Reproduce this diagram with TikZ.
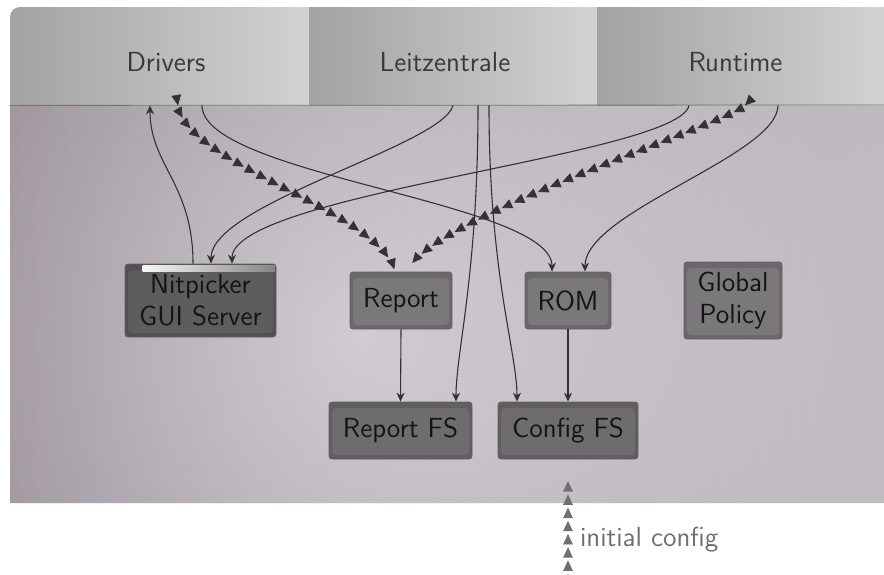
\documentclass[tikz,border=0pt]{standalone}
\usepackage{tikz}
\usetikzlibrary{arrows.meta}
\usetikzlibrary{calc}
\usetikzlibrary{fadings}
\usetikzlibrary{decorations.markings}

\definecolor{hdrleft}{HTML}{A3A3A3}
\definecolor{hdrright}{HTML}{D2D2D2}
\definecolor{hdrtext}{HTML}{3A3A3A}
\definecolor{bgleft}{HTML}{847885}
\definecolor{bgright}{HTML}{B8B0B8}
\definecolor{boxgray}{HTML}{7A787A}
\definecolor{boxdark}{HTML}{5F5C5F}
\definecolor{boxfs}{HTML}{6E6C6E}
\definecolor{boxtext}{HTML}{141414}
\definecolor{wire}{HTML}{333333}
\definecolor{feedgray}{HTML}{707070}

\tikzfading[name=glowfade, inner color=transparent!45, outer color=transparent!100]

\pgfdeclarelayer{bg}
\pgfsetlayers{bg,main}

\tikzset{
  hdr/.style={minimum height=49pt, inner sep=0pt, left color=hdrleft, right color=hdrright},
  hdrtxt/.style={text=hdrtext, inner sep=0pt},
  comp/.style={draw=black!62, line width=0.4pt, rounded corners=1.5pt, fill=#1!87!black,
    path picture={\fill[#1, rounded corners=2pt]
      ([shift={(1.5pt,-3pt)}]path picture bounding box.north west) rectangle
      ([shift={(-1.5pt,2pt)}]path picture bounding box.south east);},
    text=boxtext, align=center, inner sep=1pt},
  comp/.default=boxgray,
  dep/.style={draw=wire, line width=0.55pt, -{Stealth[length=4.5pt,width=4pt]}},
  tri/.style={decoration={markings,
    mark=between positions 0 and 1 step 6.6pt with {\arrow[#1]{Triangle[length=5.2pt,width=4.8pt]}}},
    postaction=decorate},
  tri/.default=wire
}

\begin{document}
\begin{tikzpicture}[x=0.5pt,y=-0.5pt,font=\sffamily\fontsize{13.8}{16}\selectfont]
\useasboundingbox (0,0) rectangle (884,574);

% background and header tiles
\begin{pgfonlayer}{bg}
\begin{scope}
  \clip (10,503) [rounded corners=5pt] -- (10,7) -- (900,7) [sharp corners] -- (900,503) -- cycle;
  \shade[left color=bgleft, right color=bgright] (10,105) rectangle (884,503);
  \fill[white, path fading=glowfade] (360,340) circle (720);
\end{scope}
\end{pgfonlayer}
\begin{scope}
  \clip (10,503) [rounded corners=5pt] -- (10,7) -- (900,7) [sharp corners] -- (900,503) -- cycle;
  \node[hdr, minimum width=149.5pt,
    label={[hdrtxt,xshift=3.25pt,yshift=-3pt]center:Drivers}] (drivers) at (159.5,56) {};
  \node[hdr, minimum width=144pt,
    label={[hdrtxt,xshift=-4pt,yshift=-3pt]center:Leitzentrale}] (leitz) at (453,56) {};
  \node[hdr, minimum width=144pt,
    label={[hdrtxt,xshift=-2.75pt,yshift=-3pt]center:Runtime}] (runtime) at (741,56) {};
\end{scope}
\draw[black!55, line width=0.4pt] (drivers.south west) -- (884,105);

% text colour set once outside a filled node (hidden under the Nitpicker box)
\node[text=boxtext] (colorfix) at (200.5,300.5) {GUI};
\node[text=boxtext, align=center] (colorfixb) at (733,300.5) {Global};

% components
\node[comp=boxdark, minimum width=75.5pt, minimum height=36.5pt] (nit) at (200.5,300.5) {Nitpicker\\GUI Server};
\shade[left color=white!94!gray, right color=gray!95] ($(nit.north west)+(18,1.5)$) rectangle ($(nit.north east)+(-1.5,8)$);
\node[comp, minimum width=51pt, minimum height=28.5pt] (report) at (401,300.5) {Report};
\node[comp, minimum width=43pt, minimum height=28.5pt] (rom) at (568,300.5) {ROM};
\node[comp, minimum width=49pt, minimum height=38.5pt] (glob) at (733,300.5) {Global\\Policy};
\node[comp=boxfs, minimum width=71.5pt, minimum height=28.5pt] (rfs) at (400.5,430.5) {Report FS};
\node[comp=boxfs, minimum width=70pt, minimum height=28.5pt] (cfs) at (568,430.5) {Config FS};

% sessions
\draw[dep] ($(nit.north)+(-7.5,0)$) .. controls +(0,-80) and +(0,60) .. ($(drivers.south)+(-9.5,0)$);
\path[tri] ($(drivers.south)+(18.5,0)$) .. controls +(10,60) and +(-15,-60) .. ($(report.north)+(-6,0)$);
\draw[dep] ($(drivers.south)+(42.5,0)$) .. controls +(0,70) and +(0,-70) .. ($(rom.north)+(-16,0)$);
\draw[dep] (leitz.south) .. controls +(-10,40) and +(0,-60) .. ($(nit.north)+(10.5,0)$);
\draw[dep] ($(leitz.south)+(25,0)$) .. controls +(0,170) and +(0,-50) .. ($(rfs.north)+(55.5,0)$);
\draw[dep] ($(leitz.south)+(36,0)$) .. controls +(0,170) and +(0,-50) .. ($(cfs.north)+(-51,0)$);
\draw[dep] ($(runtime.south)+(-52,0)$) .. controls +(-10,50) and +(0,-70) .. ($(nit.north)+(31.5,0)$);
\path[tri] ($(runtime.south)+(4,0)$) .. controls +(-20,20) and +(20,-53) .. ($(report.north)+(6,0)$);
\draw[dep] ($(runtime.south)+(37,0)$) .. controls +(0,50) and +(0,-60) .. ($(rom.north)+(17,0)$);
\draw[dep] (report.south) -- (rfs.north);
\draw[dep] (rom.south) -- (cfs.north);

% initial config
\coordinate (cfgsrc) at (568,600);
\path[tri=feedgray] (cfgsrc) -- ($(cfs.south)+(0,14)$);
\node[right, text=feedgray] (initlbl) at (573,540) {initial config};
\end{tikzpicture}
\end{document}
